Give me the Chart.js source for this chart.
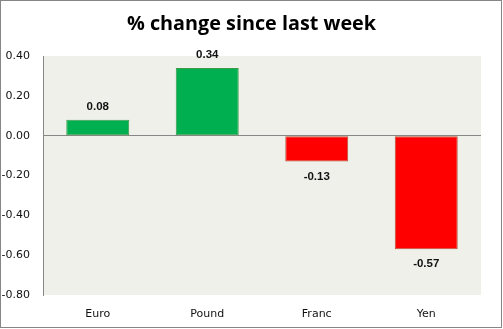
<!DOCTYPE html>
<html>
<head>
<meta charset="utf-8">
<script src="https://cdn.jsdelivr.net/npm/chart.js@4/dist/chart.umd.min.js"></script>
<style>
html,body{margin:0;padding:0;background:#fff;}
#wrap{width:503px;height:329px;position:relative;}
</style>
</head>
<body>
<div id="wrap"><canvas id="c" width="503" height="329"></canvas></div>
<script>
const categories = ["Euro", "Pound", "Franc", "Yen"];
const changes = [0.08, 0.34, -0.13, -0.57];
const yTicks = [0.40, 0.20, 0.00, -0.20, -0.40, -0.60, -0.80];
const titleText = "% change since last week";

const posFill = "#00B050", posBorder = "#3F9A47";
const negFill = "#FF0000", negBorder = "#B5553A";

const bgPlugin = {
  id: "bg",
  beforeDraw(chart) {
    const ctx = chart.ctx, a = chart.chartArea;
    ctx.save();
    ctx.fillStyle = "#fff";
    ctx.fillRect(0, 0, chart.width, chart.height);
    ctx.fillStyle = "#EEF0E9";
    ctx.fillRect(a.left, a.top, a.right - a.left, a.bottom - a.top);
    ctx.strokeStyle = "#868686";
    ctx.lineWidth = 1;
    ctx.strokeRect(0.5, 0.5, 501, 327);
    ctx.font = "bold 19.8px 'Open Sans', sans-serif";
    ctx.fillStyle = "#000";
    ctx.textAlign = "center";
    ctx.textBaseline = "middle";
    ctx.fillText(titleText, 251.5, 24);
    ctx.restore();
  }
};

const labelPlugin = {
  id: "vals",
  afterDatasetsDraw(chart) {
    const ctx = chart.ctx;
    const meta = chart.getDatasetMeta(0);
    ctx.save();
    ctx.font = "bold 11.5px 'Liberation Sans', Arial, sans-serif";
    ctx.fillStyle = "#111";
    ctx.textAlign = "center";
    ctx.textBaseline = "middle";
    meta.data.forEach((bar, i) => {
      const v = changes[i];
      const y = v >= 0 ? bar.y - 13 : bar.y + 15;
      ctx.fillText(v.toFixed(2), bar.x, y);
    });
    ctx.restore();
  }
};

new Chart(document.getElementById("c"), {
  type: "bar",
  data: {
    labels: categories,
    datasets: [{
      data: changes,
      backgroundColor: changes.map(v => v >= 0 ? posFill : negFill),
      borderColor: changes.map(v => v >= 0 ? posBorder : negBorder),
      borderWidth: 1,
      borderSkipped: false,
      categoryPercentage: 0.575,
      barPercentage: 1.0
    }]
  },
  options: {
    responsive: false,
    animation: false,
    events: [],
    layout: { padding: { left: 0, right: 22, top: 56, bottom: 10 } },
    plugins: {
      legend: { display: false },
      tooltip: { enabled: false },
      title: { display: false }
    },
    scales: {
      x: {
        afterFit(scale) { scale.height = 24; },
        grid: { display: false, drawTicks: false },
        border: { display: false },
        ticks: {
          color: "#111",
          font: { family: "'DejaVu Sans', sans-serif", size: 11 },
          padding: 13
        }
      },
      y: {
        min: -0.8,
        max: 0.4,
        afterBuildTicks(scale) { scale.ticks = yTicks.map(v => ({ value: v })); },
        afterFit(scale) { scale.width = 43; },
        grid: {
          drawTicks: false,
          color: ctx => (ctx.tick && Math.abs(ctx.tick.value) < 1e-9) ? "#878787" : "rgba(0,0,0,0)",
          lineWidth: 1
        },
        border: { display: true, color: "#878787", width: 1 },
        ticks: {
          color: "#111",
          font: { family: "'DejaVu Sans', sans-serif", size: 11 },
          padding: 13,
          callback: v => Number(v).toFixed(2)
        }
      }
    }
  },
  plugins: [bgPlugin, labelPlugin]
});
</script>
</body>
</html>
